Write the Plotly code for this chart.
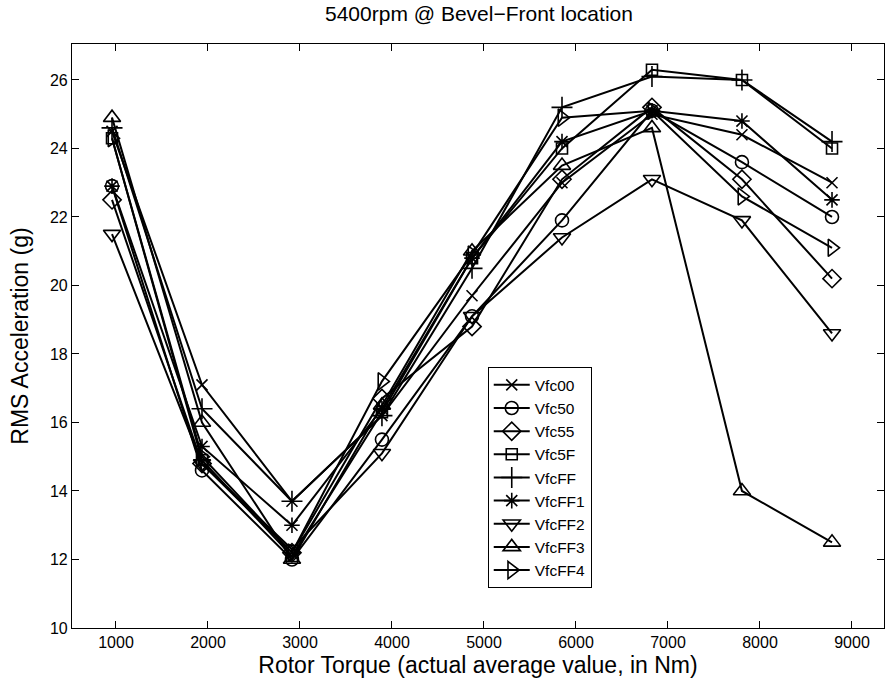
import plotly.graph_objects as go

# Rotor torque (actual average value, Nm) for the nine load steps
torque = [957, 1935, 2913, 3891, 4870, 5848, 6826, 7804, 8783]

# RMS acceleration (g) per configuration
vfc00 = [24.5, 17.1, 13.7, 16.2, 19.7, 23.0, 25.0, 24.4, 23.0]
vfc50 = [22.9, 14.6, 12.0, 15.5, 19.1, 21.9, 25.1, 23.6, 22.0]
vfc55 = [22.5, 14.8, 12.2, 16.7, 18.8, 23.1, 25.2, 23.1, 20.2]
vfc5f = [24.3, 14.9, 12.1, 16.3, 20.8, 24.0, 26.3, 26.0, 24.0]
vfcff = [24.6, 16.4, 13.7, 16.2, 20.5, 25.2, 26.1, 26.0, 24.2]
vfcff1 = [22.9, 15.3, 13.0, 16.4, 20.8, 24.2, 25.1, 24.8, 22.5]
vfcff2 = [21.5, 14.8, 12.3, 15.1, 19.1, 21.4, 23.1, 21.9, 18.6]
vfcff3 = [24.9, 16.0, 12.0, 16.5, 21.0, 23.5, 24.6, 14.0, 12.5]
vfcff4 = [24.3, 15.0, 12.2, 17.2, 20.9, 24.9, 25.1, 22.6, 21.1]

names = ["Vfc00", "Vfc50", "Vfc55", "Vfc5F", "VfcFF", "VfcFF1", "VfcFF2", "VfcFF3", "VfcFF4"]
values = [vfc00, vfc50, vfc55, vfc5f, vfcff, vfcff1, vfcff2, vfcff3, vfcff4]
symbols = ["x-thin-open", "circle-open", "diamond-open", "square-open", "cross-thin-open",
           "asterisk-open", "triangle-down-open", "triangle-up-open", "triangle-right-open"]
sizes = [11, 13, 14, 11, 15, 13, 15, 15, 15]

FONT = "Liberation Sans, Arial, Helvetica, sans-serif"

fig = go.Figure()
for name, vals, sym, sz in zip(names, values, symbols, sizes):
    fig.add_trace(go.Scatter(
        x=torque, y=vals, name=name, mode="lines+markers",
        line=dict(color="black", width=2),
        marker=dict(symbol=sym, size=sz, color="black",
                    line=dict(color="black", width=1.6)),
    ))

axis_common = dict(
    showline=True, linecolor="black", linewidth=1.2, mirror="allticks",
    ticks="inside", ticklen=7, tickcolor="black", tickwidth=1,
    showgrid=False, zeroline=False,
    tickfont=dict(family=FONT, size=16, color="black"),
)

fig.update_layout(
    width=887, height=692,
    margin=dict(l=72, r=3, t=44, b=64),
    paper_bgcolor="white", plot_bgcolor="white",
    title=dict(text="5400rpm @ Bevel\u2212Front location", x=0.54, xanchor="center",
               y=0.98, yanchor="middle",
               font=dict(family=FONT, size=21, color="black")),
    xaxis=dict(range=[522, 9348], tickvals=[1000, 2000, 3000, 4000, 5000, 6000, 7000, 8000, 9000],
               title=dict(text="Rotor Torque (actual average value, in Nm)", standoff=6,
                          font=dict(family=FONT, size=23, color="black")),
               **axis_common),
    yaxis=dict(range=[10, 27.05], tickvals=[10, 12, 14, 16, 18, 20, 22, 24, 26],
               title=dict(text="RMS Acceleration (g)", standoff=14,
                          font=dict(family=FONT, size=23, color="black")),
               **axis_common),
    legend=dict(x=0.512, y=0.068, xanchor="left", yanchor="bottom",
                bgcolor="white", bordercolor="black", borderwidth=1,
                font=dict(family=FONT, size=15.5, color="black"),
                tracegroupgap=0, itemwidth=36),
    showlegend=True,
)

fig.write_html("out.html")
